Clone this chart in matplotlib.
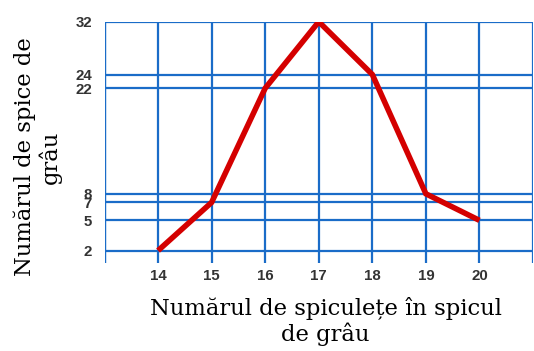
import numpy as np
import matplotlib
matplotlib.use("Agg")
import matplotlib.pyplot as plt

# spiculete per spic (x) and number of spikes (y)
spikelets = [14, 15, 16, 17, 18, 19, 20]
spikes = [2, 7, 22, 32, 24, 8, 5]

x_ticks = [13, 14, 15, 16, 17, 18, 19, 20, 21]
x_labels = ["", "14", "15", "16", "17", "18", "19", "20", ""]
y_ticks = [2, 5, 7, 8, 22, 24, 32]

GRID_BLUE = "#1a6cc8"

# the original drawing is slightly compressed at the ends, a 0.8 power scale fits it well
def fwd(v):
    v = np.asarray(v, dtype=float)
    return np.sign(v) * np.abs(v) ** 0.8

def inv(v):
    v = np.asarray(v, dtype=float)
    return np.sign(v) * np.abs(v) ** 1.25

fig = plt.figure(figsize=(5.34, 3.51), dpi=100)
ax = fig.add_axes([104.5 / 534, 88 / 351, 428.5 / 534, 241.3 / 351])

ax.set_yscale("function", functions=(fwd, inv))
ax.set_xlim(13, 21)
ax.set_ylim(0.96, 32)

ax.set_xticks(x_ticks)
ax.set_xticklabels(x_labels)
ax.set_yticks(y_ticks)
ax.set_yticklabels([str(t) for t in y_ticks])
ax.minorticks_off()

ax.grid(True, color=GRID_BLUE, linewidth=1.6)
for s in ax.spines.values():
    s.set_visible(False)
ax.axvline(13, color=GRID_BLUE, linewidth=1.6)

ax.tick_params(length=0, labelsize=10.8, labelcolor="#333333")
ax.tick_params(axis="y", pad=9)
ax.tick_params(axis="x", pad=4)
for lab in ax.get_xticklabels() + ax.get_yticklabels():
    lab.set_fontweight("bold")
    lab.set_fontfamily("Liberation Sans")

ax.plot(spikelets, spikes, color="#d40000", linewidth=4, solid_joinstyle="miter",
        solid_capstyle="butt", zorder=3)

serif = {"family": "DejaVu Serif", "size": 16.3}
ax.set_xlabel("Numărul de spiculețe în spicul\nde grâu", fontdict=serif, linespacing=1.12)
ax.xaxis.set_label_coords(0.516, -0.14)
ax.set_ylabel("Numărul de spice de\ngrâu", fontdict=serif, linespacing=1.12)
ax.yaxis.set_label_coords(-0.1, 0.44)

fig.savefig("out.png", dpi=100)
